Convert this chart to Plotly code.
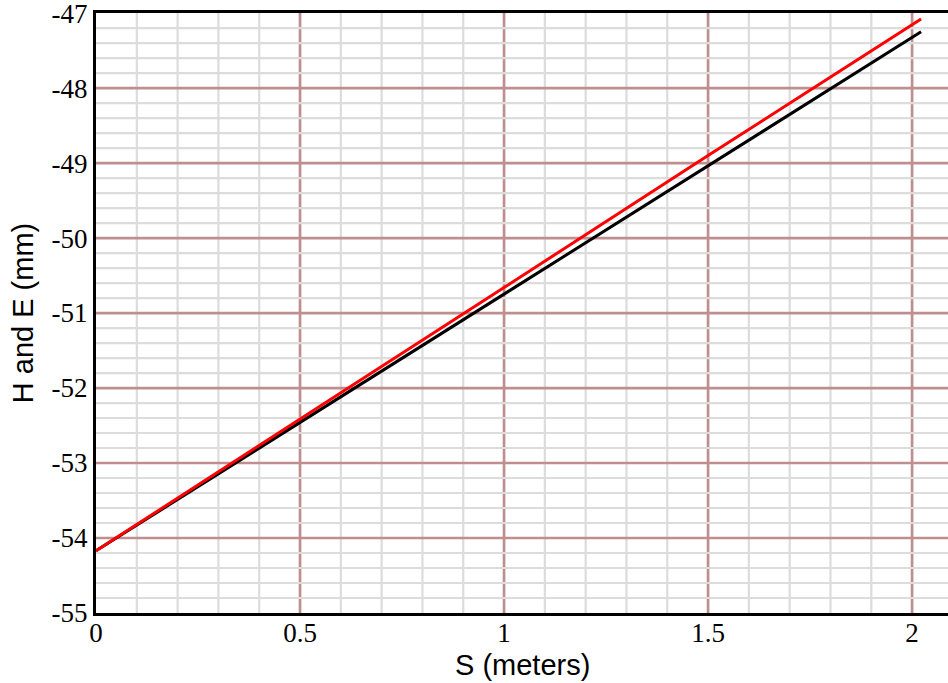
import numpy as np
import plotly.graph_objects as go

# Distance along the profile (m) and the two measured heights (mm)
s_m = [0.0, 0.5, 1.0, 1.5, 2.022]
h_mm = [-54.17, -52.46, -50.74, -49.04, -47.25]
e_mm = [-54.17, -52.42, -50.66, -48.90, -47.08]

x_tick_vals = [0, 0.5, 1, 1.5, 2]
x_tick_text = ["0", "0.5", "1", "1.5", "2"]
y_tick_vals = [-55, -54, -53, -52, -51, -50, -49, -48, -47]
y_tick_text = ["-55", "-54", "-53", "-52", "-51", "-50", "-49", "-48", "-47"]

X_RANGE = [0, 2.088]
Y_RANGE = [-55, -46.999]

MAJOR = "#bf8f8f"
MINOR = "#dcdcdc"
SERIF = "Liberation Serif, Times New Roman, serif"
SANS = "Liberation Sans, Arial, sans-serif"

fig = go.Figure()
fig.add_trace(go.Scatter(x=s_m, y=h_mm, mode="lines", name="H",
                         line=dict(color="black", width=3)))
fig.add_trace(go.Scatter(x=s_m, y=e_mm, mode="lines", name="E",
                         line=dict(color="#ff0000", width=3)))


def vline(x, color, width):
    return dict(type="line", layer="between", xref="x", yref="paper",
                x0=x, x1=x, y0=0, y1=1, line=dict(color=color, width=width))


def hline(y, color, width):
    return dict(type="line", layer="between", xref="paper", yref="y",
                x0=0, x1=1, y0=y, y1=y, line=dict(color=color, width=width))


# Grid, painted in stacking order: vertical majors sit beneath the light
# horizontal rules, horizontal majors sit on top of everything.
x_major = np.arange(0.5, 2.05, 0.5)
x_minor = [v for v in np.arange(0.1, 2.09, 0.1) if abs(v / 0.5 - round(v / 0.5)) > 1e-6]
y_minor = [v for v in np.arange(-54.8, -47.1, 0.2) if abs(v - round(v)) > 1e-6]
y_major = np.arange(-54, -47.5, 1)

shapes = []
shapes += [vline(float(v), MAJOR, 2.7) for v in x_major]
shapes += [hline(float(v), MINOR, 2.2) for v in y_minor]
shapes += [vline(float(v), MINOR, 2.2) for v in x_minor]
shapes += [hline(float(v), MAJOR, 2.7) for v in y_major]

fig.update_layout(
    width=948, height=683,
    margin=dict(l=96, r=0, t=13, b=70),
    paper_bgcolor="white", plot_bgcolor="white",
    showlegend=False,
    shapes=shapes,
    annotations=[dict(
        text="S (meters)", xref="paper", yref="paper", x=0.5, y=0,
        xanchor="center", yanchor="top", yshift=-34, showarrow=False,
        font=dict(family=SANS, size=29, color="black"),
    )],
    xaxis=dict(
        range=X_RANGE,
        tickmode="array", tickvals=x_tick_vals, ticktext=x_tick_text,
        tickfont=dict(family=SERIF, size=27, color="black"),
        ticklabelstandoff=-6,
        showgrid=False,
        showline=True, linecolor="black", linewidth=3, mirror=True,
        zeroline=False, ticks="",
    ),
    yaxis=dict(
        range=Y_RANGE,
        tickmode="array", tickvals=y_tick_vals, ticktext=y_tick_text,
        tickfont=dict(family=SERIF, size=27, color="black"),
        ticklabeloverflow="allow",
        showgrid=False,
        showline=True, linecolor="black", linewidth=3, mirror=False,
        zeroline=False, ticks="",
        title=dict(text="H and E (mm)", font=dict(family=SANS, size=29, color="black"),
                   standoff=10),
    ),
)

fig.write_html("out.html")
